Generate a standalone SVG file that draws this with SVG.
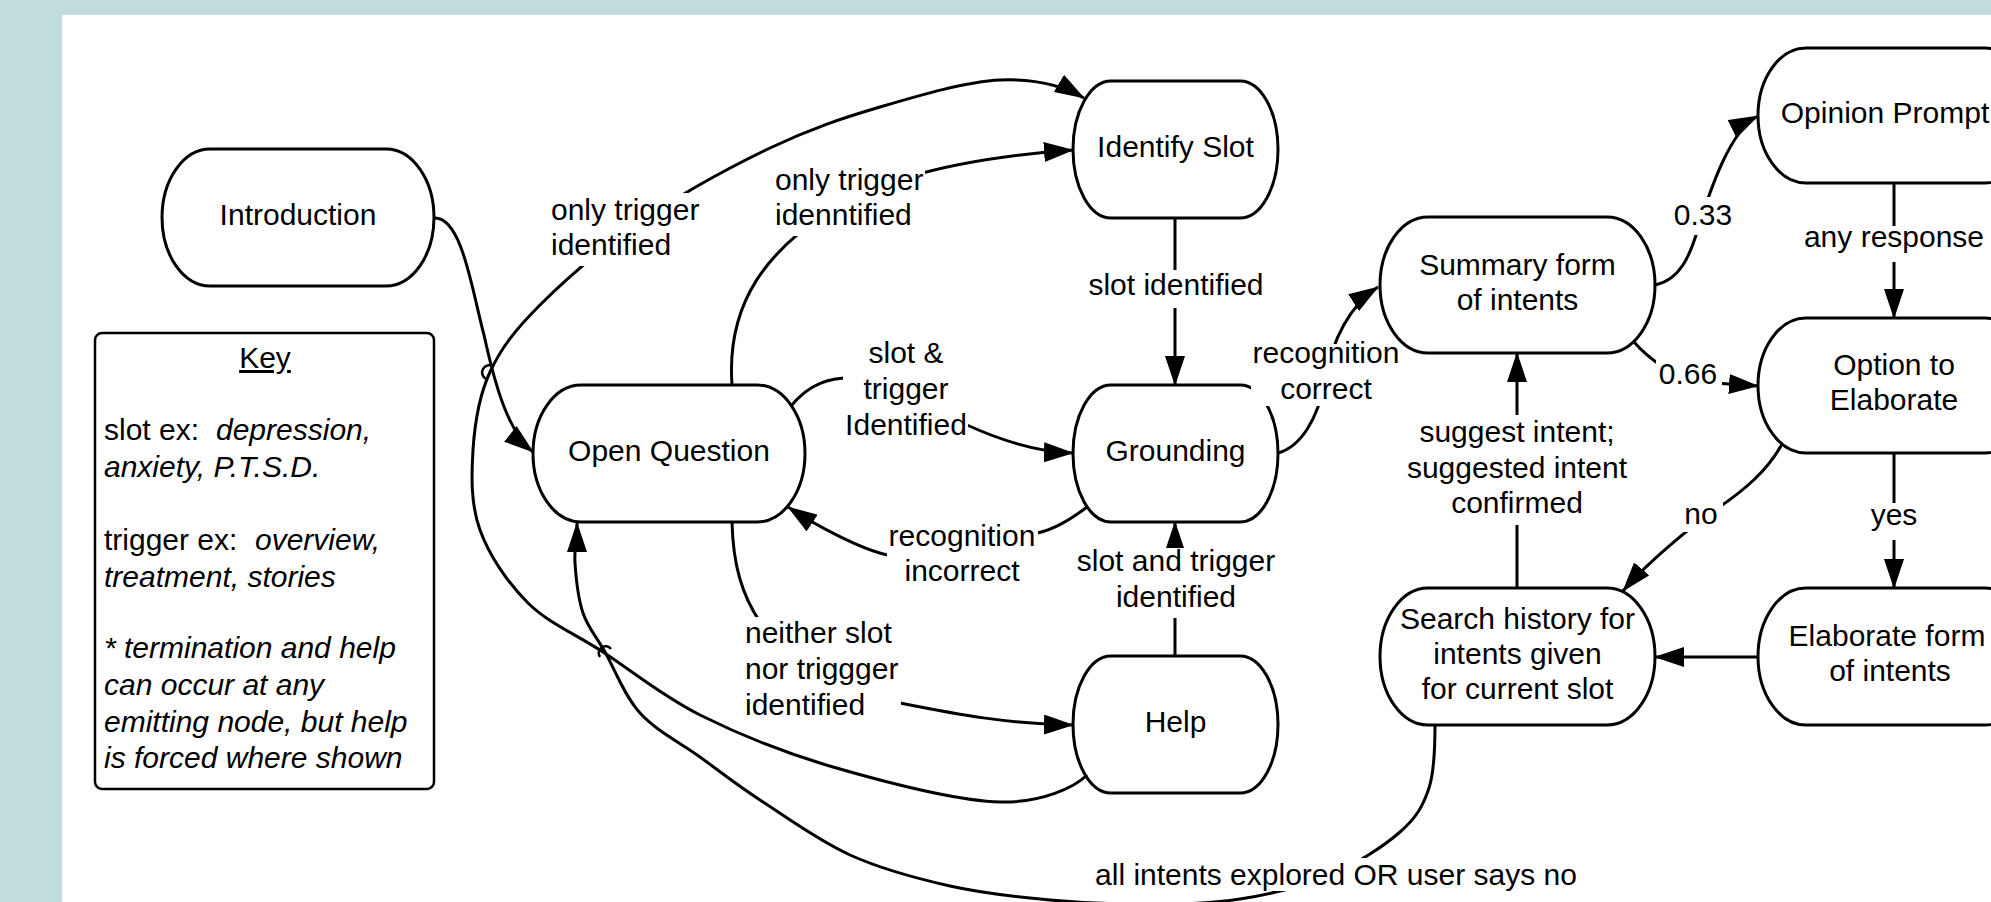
<svg xmlns="http://www.w3.org/2000/svg" width="1991" height="902" viewBox="0 0 1991 902">
<defs>
<marker id="arr" markerUnits="userSpaceOnUse" markerWidth="30" markerHeight="20" refX="29" refY="10" orient="auto"><path d="M0,0 L30,10 L0,20 Z" fill="#000"/></marker>
</defs>
<style>
.node{fill:#fff;stroke:#000;stroke-width:3}
.edge{fill:none;stroke:#000;stroke-width:3}
.arrow{marker-end:url(#arr)}
.jump{fill:none;stroke:#000;stroke-width:2.5}
text{font-family:"Liberation Sans",Arial,sans-serif;font-size:30px;fill:#000}
.c{text-anchor:middle}
.lb{fill:#fff}
.it{font-style:italic}
</style>
<rect width="1991" height="902" fill="#c1dcdc"/>
<rect x="62" y="15" width="1929" height="887" fill="#fff"/>

<g id="nodes">
<g id="introduction"><path class="node" d="M210,149 H386 A48,68.5 0 0 1 386,286 H210 A48,68.5 0 0 1 210,149 Z"/><text class="c" x="298" y="224.5">Introduction</text></g>
<g id="open-question"><path class="node" d="M581,385 H757 A48,68.5 0 0 1 757,522 H581 A48,68.5 0 0 1 581,385 Z"/><text class="c" x="669" y="460.5">Open Question</text></g>
<g id="identify-slot"><path class="node" d="M1111,81 H1240 A38,68.5 0 0 1 1240,218 H1111 A38,68.5 0 0 1 1111,81 Z"/><text class="c" x="1175.5" y="156.5">Identify Slot</text></g>
<g id="grounding"><path class="node" d="M1111,385 H1240 A38,68.5 0 0 1 1240,522 H1111 A38,68.5 0 0 1 1111,385 Z"/><text class="c" x="1175.5" y="460.5">Grounding</text></g>
<g id="help"><path class="node" d="M1111,656 H1240 A38,68.5 0 0 1 1240,793 H1111 A38,68.5 0 0 1 1111,656 Z"/><text class="c" x="1175.5" y="731.5">Help</text></g>
<g id="summary"><path class="node" d="M1428,217 H1607 A48,68 0 0 1 1607,353 H1428 A48,68 0 0 1 1428,217 Z"/><text class="c" x="1517.5" y="274.5">Summary form</text><text class="c" x="1517.5" y="309.5">of intents</text></g>
<g id="search-history"><path class="node" d="M1428,588 H1607 A48,68.5 0 0 1 1607,725 H1428 A48,68.5 0 0 1 1428,588 Z"/><text class="c" x="1517.5" y="628.5">Search history for</text><text class="c" x="1517.5" y="663.5">intents given</text><text class="c" x="1517.5" y="698.5">for current slot</text></g>
<g id="opinion-prompt"><path class="node" d="M1806,48 H1985 A48,67.5 0 0 1 1985,183 H1806 A48,67.5 0 0 1 1806,48 Z"/><text class="c" x="1885" y="122.5">Opinion Prompt</text></g>
<g id="option-to-elaborate"><path class="node" d="M1806,318 H1985 A48,67.5 0 0 1 1985,453 H1806 A48,67.5 0 0 1 1806,318 Z"/><text class="c" x="1894" y="375">Option to</text><text class="c" x="1894" y="410">Elaborate</text></g>
<g id="elaborate-form"><path class="node" d="M1806,588 H1985 A48,68.5 0 0 1 1985,725 H1806 A48,68.5 0 0 1 1806,588 Z"/><text class="c" x="1887" y="646">Elaborate form</text><text class="c" x="1890" y="681">of intents</text></g>
<g id="key"><rect x="95" y="333" width="339" height="456" rx="7" fill="#fff" stroke="#000" stroke-width="2.5"/>
<text class="c" x="265" y="368" text-decoration="underline">Key</text>
<text x="104" y="440">slot ex:<tspan class="it" x="216">depression,</tspan></text>
<text class="it" x="104" y="477">anxiety, P.T.S.D.</text>
<text x="104" y="550">trigger ex:<tspan class="it" x="255">overview,</tspan></text>
<text class="it" x="104" y="587">treatment, stories</text>
<text class="it" x="104" y="658">* termination and help</text>
<text class="it" x="104" y="695">can occur at any</text>
<text class="it" x="104" y="732">emitting node, but help</text>
<text class="it" x="104" y="768">is forced where shown</text>
</g>
</g>

<g id="connectors">
<path class="edge arrow" d="M435,218 C462,218 472,290 484,335 C495,385 508,432 533,452"/>
<path class="edge arrow" d="M1087,775 C1075,787 1042,803 1000,802 C958,801 883,781.5 833,767 C783,752.5 738,734 700,715 C661.7,695.8 631.7,670.7 603,652 C574.3,633.3 548.5,623.3 528,603 C507.5,582.7 489.2,555.5 480,530 C470.8,504.5 471.3,476.3 473,450 C474.7,423.7 478.8,396.2 490,372 C501.2,347.8 515,330 540,305 C565,280 601.7,248.2 640,222 C678.3,195.8 730,167.2 770,148 C810,128.8 841.7,118.3 880,107 C918.3,95.7 966,81.5 1000,80 C1034,78.5 1060,84 1084,98"/>
<path class="edge arrow" d="M732,385 C726,300 770,250 830,210 C880,180 960,158 1073,150"/>
<path class="edge arrow" d="M791,406 C810,383 830,378 850,378 C900,378 930,410 967,425 C1000,440 1035,452 1073,453"/>
<path class="edge arrow" d="M1087,507 C1070,520 1052,530 1037,533 C990,545 930,556 888,555 C862,550 815,525 788,507"/>
<path class="edge arrow" d="M1175,218 L1175,385"/>
<path class="edge arrow" d="M1175,656 L1175,522"/>
<path class="edge arrow" d="M732,522 C733,565 742,595 760,622 C800,680 850,695 900,703 C960,715 1010,724 1073,725"/>
<path class="edge arrow" d="M1278,453 C1300,447 1318,420 1325,380 C1332,340 1350,305 1378,287"/>
<path class="edge arrow" d="M1655,285 C1680,280 1690,255 1697,232 C1710,190 1730,130 1758,116"/>
<path class="edge arrow" d="M1633,341 C1648,358 1670,375 1700,382 L1758,386"/>
<path class="edge arrow" d="M1894,183 L1894,318"/>
<path class="edge arrow" d="M1894,453 L1894,588"/>
<path class="edge arrow" d="M1758,657 L1655,657"/>
<path class="edge arrow" d="M1782,444 C1768,470 1745,490 1715,510 C1690,527 1645,565 1623,591"/>
<path class="edge arrow" d="M1517,588 L1517,353"/>
<path class="edge arrow" d="M1435,725 C1435,745 1434.8,770.2 1429,788 C1423.2,805.8 1416.5,817.5 1400,832 C1383.5,846.5 1356.7,863.8 1330,875 C1303.3,886.2 1270,894.2 1240,899 C1210,903.8 1181.7,903.8 1150,904 C1118.3,904.2 1083.3,903 1050,900 C1016.7,897 983.3,893.5 950,886 C916.7,878.5 881.7,869.3 850,855 C818.3,840.7 785,816.3 760,800 C735,783.7 720,771.5 700,757 C680,742.5 655.8,730.5 640,713 C624.2,695.5 614.5,668.7 605,652 C595.5,635.3 588,627.8 583,613 C578,598.2 576,578 575,563 C574,548 577,540 577,523"/>
<path class="jump" d="M486,379 A7,7 0 0 1 493,366"/>
<path class="jump" d="M600,657 A6,6 0 0 1 611,649"/>
</g>

<g id="labels">
<rect class="lb" x="548" y="193" width="155" height="73"/>
<text x="551" y="220">only trigger</text><text x="551" y="255">identified</text>
<rect class="lb" x="773" y="165" width="152" height="71"/>
<text x="775" y="190">only trigger</text><text x="775" y="225">idenntified</text>
<rect class="lb" x="843" y="341" width="125" height="100"/>
<text class="c" x="906" y="363">slot &amp;</text><text class="c" x="906" y="399">trigger</text><text class="c" x="906" y="435">Identified</text>
<rect class="lb" x="887" y="522" width="151" height="66"/>
<text class="c" x="962" y="546">recognition</text><text class="c" x="962" y="581">incorrect</text>
<rect class="lb" x="1083" y="270" width="186" height="38"/>
<text class="c" x="1176" y="295">slot identified</text>
<rect class="lb" x="1075" y="548" width="203" height="70"/>
<text class="c" x="1176" y="571">slot and trigger</text><text class="c" x="1176" y="607">identified</text>
<rect class="lb" x="743" y="617" width="158" height="106"/>
<text x="745" y="643">neither slot</text><text x="745" y="679">nor triggger</text><text x="745" y="715">identified</text>
<rect class="lb" x="1251" y="344" width="150" height="62"/>
<text class="c" x="1326" y="363">recognition</text><text class="c" x="1326" y="399">correct</text>
<rect class="lb" x="1404" y="415" width="227" height="110"/>
<text class="c" x="1517" y="442">suggest intent;</text><text class="c" x="1517" y="478">suggested intent</text><text class="c" x="1517" y="513">confirmed</text>
<rect class="lb" x="1670" y="197" width="66" height="38"/>
<text class="c" x="1703" y="225">0.33</text>
<rect class="lb" x="1656" y="360" width="66" height="31"/>
<text class="c" x="1688" y="384">0.66</text>
<rect class="lb" x="1802" y="226" width="184" height="36"/>
<text class="c" x="1894" y="247">any response</text>
<rect class="lb" x="1870" y="503" width="48" height="37"/>
<text class="c" x="1894" y="525">yes</text>
<rect class="lb" x="1683" y="502" width="40" height="30"/>
<text class="c" x="1701" y="524">no</text>
<rect class="lb" x="1092" y="858" width="490" height="33"/>
<text class="c" x="1336" y="885">all intents explored OR user says no</text>
</g>
</svg>
